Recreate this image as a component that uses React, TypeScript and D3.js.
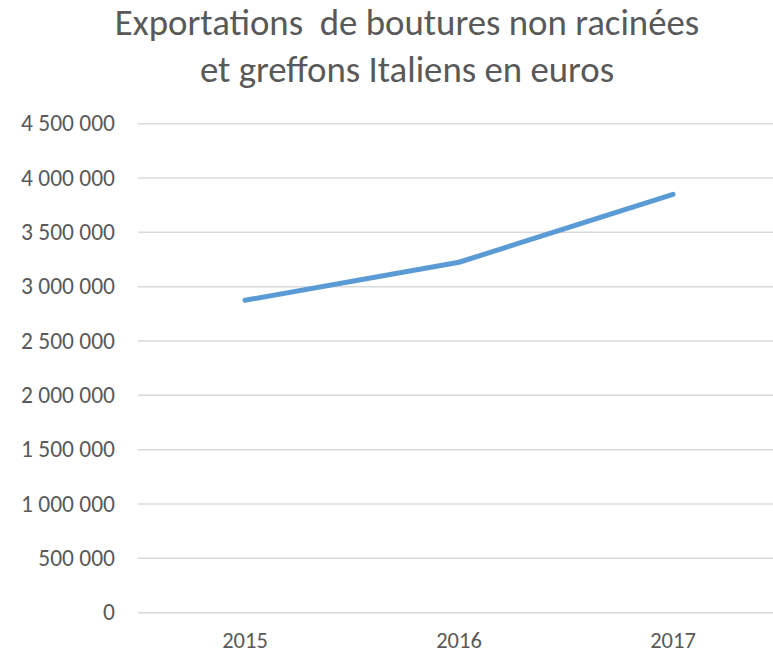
import React from "react";
import * as d3 from "d3";

const titleLines = ["Exportations  de boutures non racinées", "et greffons Italiens en euros"];
const years = ["2015", "2016", "2017"];
const values = [2875000, 3225000, 3850000];
const yTicks = [0, 500000, 1000000, 1500000, 2000000, 2500000, 3000000, 3500000, 4000000, 4500000];

const W = 773;
const H = 653;
const margin = { left: 138, right: -7, top: 123.7, bottom: 40.3 };

const fmt = (v: number) => d3.format(",")(v).replace(/,/g, " ");

export default function App() {
  const x = d3.scaleBand<string>().domain(years).range([margin.left, W - margin.right]).padding(0);
  const y = d3.scaleLinear().domain([0, 4500000]).range([H - margin.bottom, margin.top]);
  const line = d3
    .line<number>()
    .x((_, i) => (x(years[i]) as number) + x.bandwidth() / 2)
    .y((d) => y(d));
  const font = "Carlito, Lato, 'Open Sans', sans-serif";
  return (
    <div style={{ position: "fixed", left: 0, top: 0 }}>
      <svg width={W} height={H} style={{ display: "block", background: "#fff", overflow: "hidden" }}>
        <rect width={W} height={H} fill="#fff" />
        {titleLines.map((t, i) => (
          <text
            key={i}
            x={407}
            y={35 + i * 47}
            textAnchor="middle"
            fill="#595959"
            fontFamily={font}
            fontSize={36.8}
            fontWeight={300}
            style={{ whiteSpace: "pre" }}
          >
            {t}
          </text>
        ))}
        {yTicks.map((t) => (
          <g key={t}>
            <line x1={margin.left} x2={W - margin.right} y1={y(t)} y2={y(t)} stroke="#d9d9d9" strokeWidth={1.5} />
            <text x={115} y={y(t)} dy="0.33em" textAnchor="end" fill="#595959" fontFamily={font} fontSize={23.5}>
              {fmt(t)}
            </text>
          </g>
        ))}
        {years.map((yr) => (
          <text
            key={yr}
            x={(x(yr) as number) + x.bandwidth() / 2}
            y={648}
            textAnchor="middle"
            fill="#595959"
            fontFamily={font}
            fontSize={22.5}
          >
            {yr}
          </text>
        ))}
        <path d={line(values) || ""} fill="none" stroke="#5b9bd5" strokeWidth={5} strokeLinecap="round" strokeLinejoin="round" />
      </svg>
    </div>
  );
}
